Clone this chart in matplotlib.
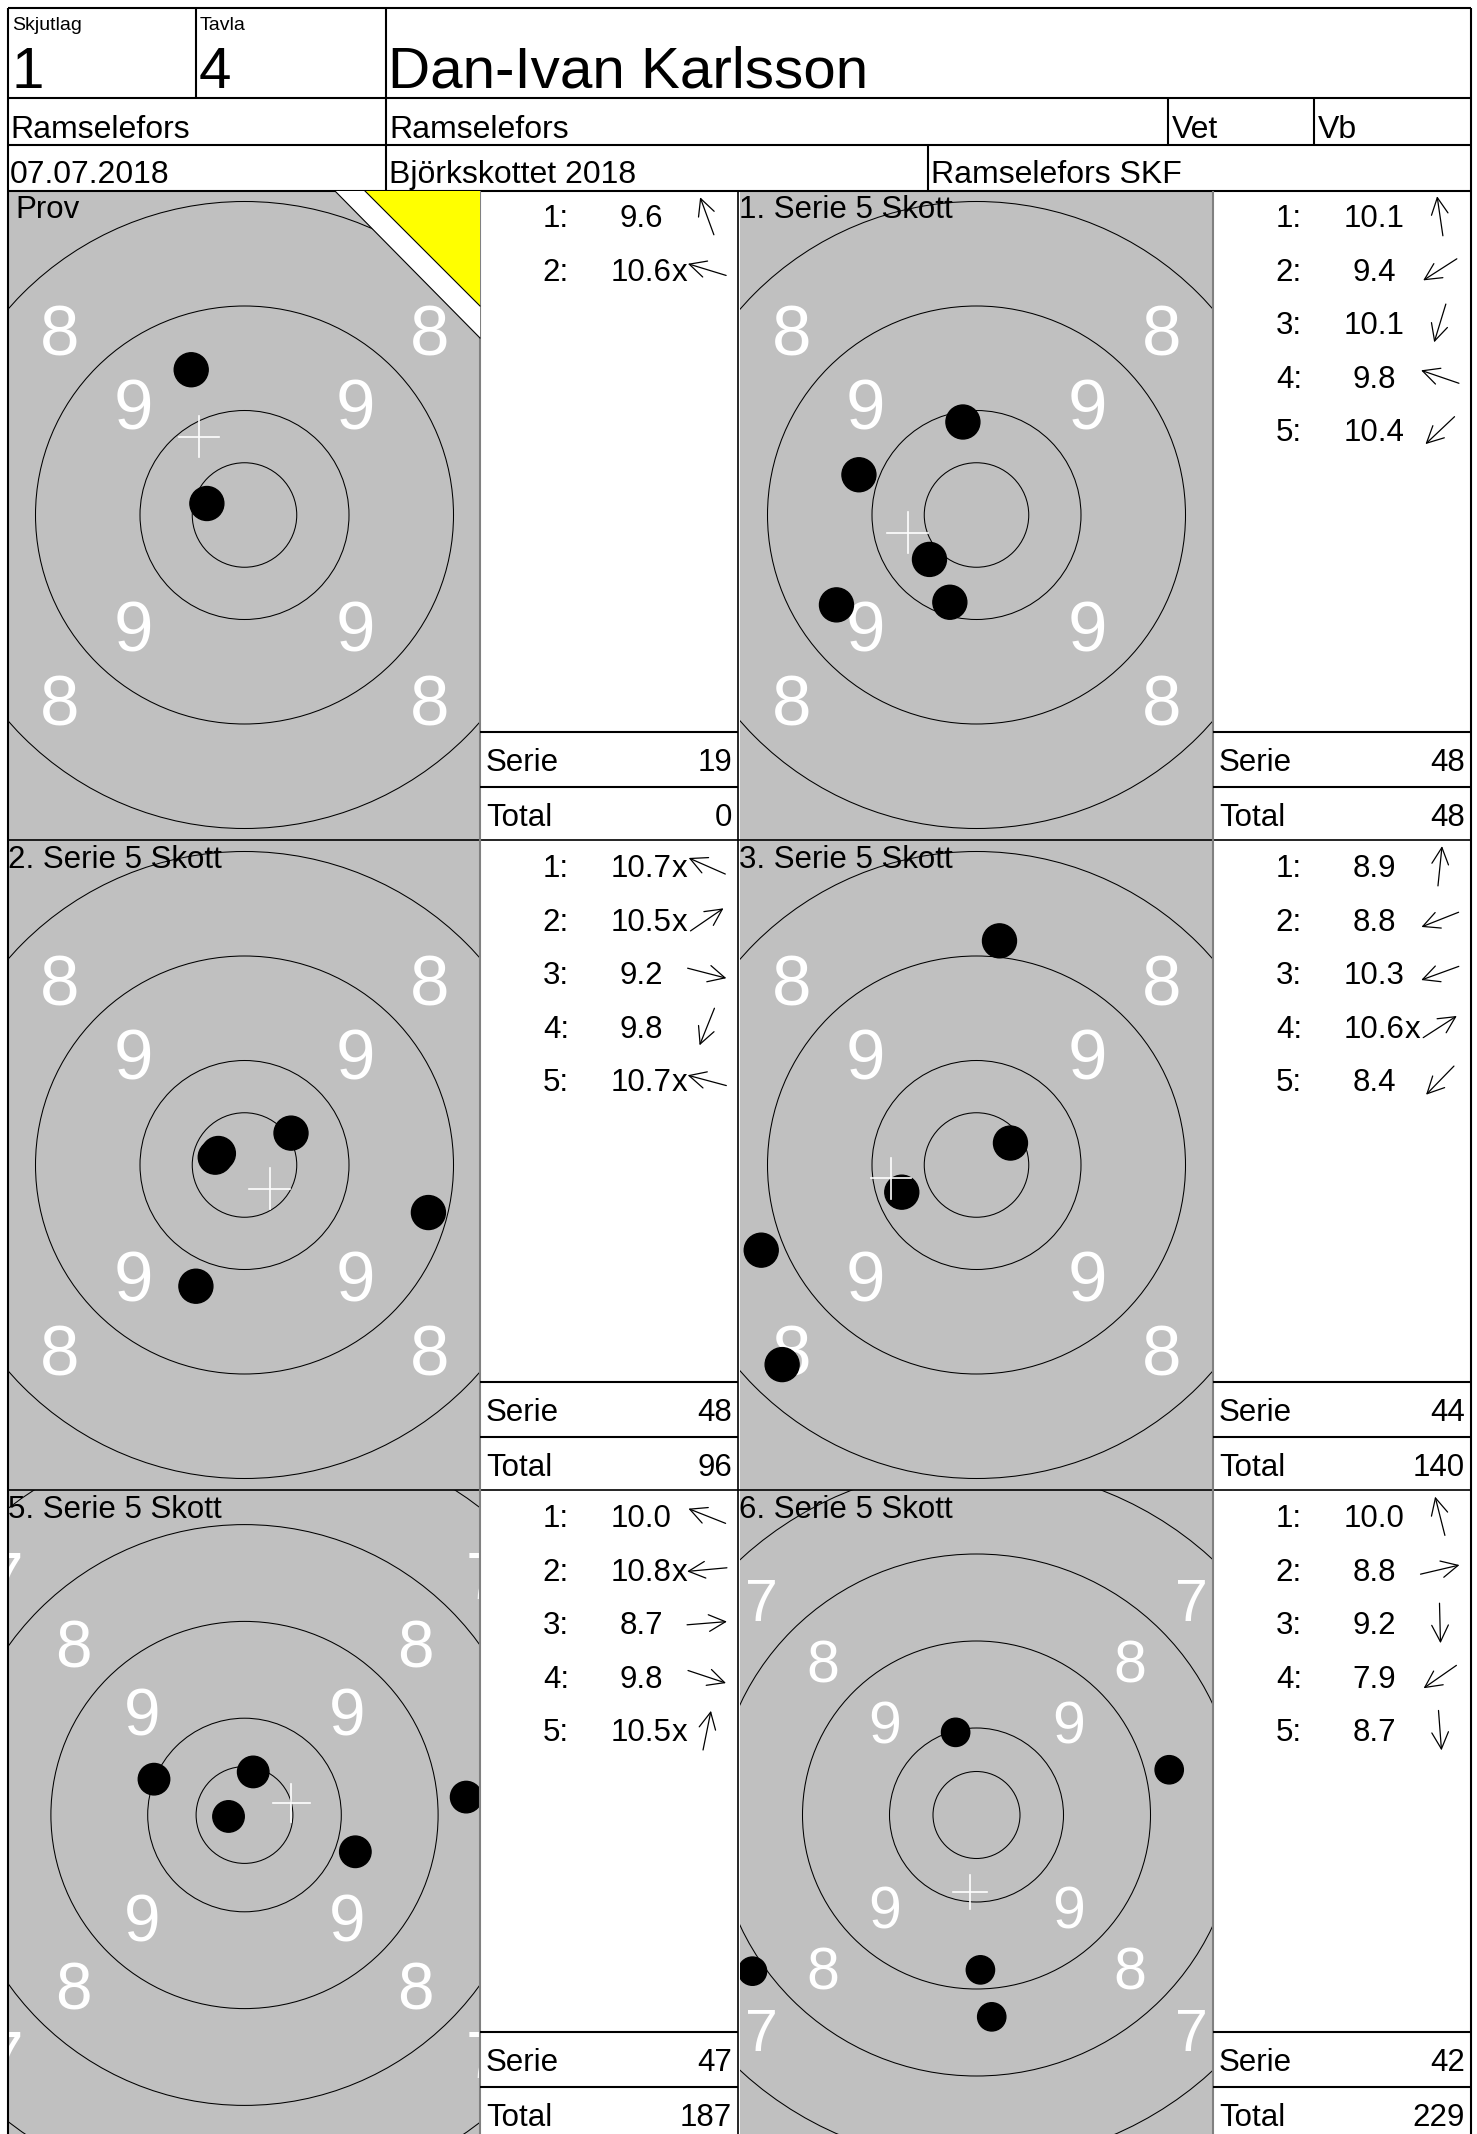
import numpy as np
import matplotlib
matplotlib.use("Agg")
import matplotlib.pyplot as plt
from matplotlib.patches import Circle, Polygon

plt.rcParams['font.family'] = ['Liberation Sans', 'DejaVu Sans']

W, H, DPI = 1477, 2134, 100

# ---------------- data ----------------
header_labels = ["Skjutlag", "Tavla"]
header_values = ["1", "4"]
shooter = "Dan-Ivan Karlsson"
row2_texts = ["Ramselefors", "Ramselefors", "Vet", "Vb"]
row3_texts = ["07.07.2018", "Björkskottet 2018", "Ramselefors SKF"]

panel_titles = ["Prov", "1. Serie 5 Skott", "2. Serie 5 Skott",
                "3. Serie 5 Skott", "5. Serie 5 Skott", "6. Serie 5 Skott"]

# shot positions in ring units (inner-ten radius = 1), x right, y up
prov_x = [-1.02, -0.72]
prov_y = [2.78, 0.22]
serie1_x = [-0.26, -2.68, -0.51, -2.25, -0.90]
serie1_y = [1.78, -1.72, -1.67, 0.77, -0.85]
serie2_x = [-0.50, 0.89, 3.52, -0.93, -0.56]
serie2_y = [0.22, 0.61, -0.91, -2.32, 0.15]
serie3_x = [0.44, -4.12, -1.43, 0.65, -3.72]
serie3_y = [4.29, -1.63, -0.52, 0.42, -3.82]
serie5_x = [-1.87, -0.33, 4.58, 2.29, 0.18]
serie5_y = [0.74, -0.03, 0.37, -0.76, 0.89]
serie6_x = [-0.48, 4.43, 0.09, -5.15, 0.35]
serie6_y = [1.90, 1.04, -3.56, -3.59, -4.64]

prov_scores = ["9.6", "10.6x"]
serie1_scores = ["10.1", "9.4", "10.1", "9.8", "10.4"]
serie2_scores = ["10.7x", "10.5x", "9.2", "9.8", "10.7x"]
serie3_scores = ["8.9", "8.8", "10.3", "10.6x", "8.4"]
serie5_scores = ["10.0", "10.8x", "8.7", "9.8", "10.5x"]
serie6_scores = ["10.0", "8.8", "9.2", "7.9", "8.7"]

serie_sums = [19, 48, 48, 44, 47, 42]
total_sums = [0, 48, 96, 140, 187, 229]

# ring radii (ring units) and labelled ring values
ring_radii = [1, 2, 4, 6, 8, 10, 12, 14]
ring_values = [9, 8, 7, 6, 5]

panels = list(zip(panel_titles,
                  [prov_x, serie1_x, serie2_x, serie3_x, serie5_x, serie6_x],
                  [prov_y, serie1_y, serie2_y, serie3_y, serie5_y, serie6_y],
                  [prov_scores, serie1_scores, serie2_scores, serie3_scores,
                   serie5_scores, serie6_scores]))

# ---------------- layout / style ----------------
target_scale = [52.25, 52.25, 52.25, 52.25, 48.4, 43.5]   # px per ring unit
row_top = [190, 840, 1490]
center_y = [515, 1165, 1815]
tgt_left = [9, 740]
tgt_right = [480, 1213]
col_left = [480, 1213]
col_right = [738, 1471]
GRAY = '#c0c0c0'
SHOT_R = 0.325
CROSS = 0.39
FS = 22.5

fig = plt.figure(figsize=(W / DPI, H / DPI), dpi=DPI)
fig.patch.set_facecolor('white')

# ---------------- targets ----------------
for i, (title, xs, ys, scores) in enumerate(panels):
    r, c = divmod(i, 2)
    u = target_scale[i]
    left, right = tgt_left[c], tgt_right[c]
    top = max(row_top[r], 191)
    bottom = min(row_top[r] + 650, H)
    cx = (left + right) / 2
    cy = center_y[r]
    axt = fig.add_axes([left / W, 1 - bottom / H, (right - left) / W, (bottom - top) / H])
    axt.set_xlim((left - cx) / u, (right - cx) / u)
    axt.set_ylim((cy - bottom) / u, (cy - top) / u)
    axt.set_facecolor(GRAY)
    axt.set_xticks([])
    axt.set_yticks([])
    for s in axt.spines.values():
        s.set_visible(False)
    for rad in ring_radii:
        axt.add_patch(Circle((0, 0), rad, fill=False, ec='black', lw=0.75, zorder=2))
    fs = 51 * u / 52.25
    for k in ring_values:
        d = (21 - 2 * k) / np.sqrt(2)
        for sx in (-1, 1):
            for sy in (-1, 1):
                axt.text(sx * d, sy * d - 0.485, str(k), ha='center', va='baseline',
                         color='white', fontsize=fs, zorder=3, clip_on=True)
    for x, y in zip(xs, ys):
        axt.add_patch(Circle((x, y), SHOT_R, color='black', zorder=4))
    mx, my = np.mean(xs), np.mean(ys)
    axt.plot([mx - CROSS, mx + CROSS], [my, my], color='white', lw=1.2, zorder=5)
    axt.plot([mx, mx], [my - CROSS, my + CROSS], color='white', lw=1.2, zorder=5)

# ---------------- overlay (pixel coordinates) ----------------
ov = fig.add_axes([0, 0, 1, 1])
ov.set_xlim(0, W)
ov.set_ylim(H, 0)
ov.set_axis_off()


def hline(y, x0, x1, color='black', lw=1.5):
    ov.plot([x0, x1], [y, y], color=color, lw=lw, solid_capstyle='butt')


def vline(x, y0, y1, color='black', lw=1.5):
    ov.plot([x, x], [y0, y1], color=color, lw=lw, solid_capstyle='butt')


# header grid
for y in (8, 98, 145, 191):
    hline(y, 8, 1471)
vline(8, 8, H)
vline(1471, 8, H)
vline(196, 8, 98)
vline(386, 8, 191)
vline(1168, 98, 145)
vline(1314, 98, 145)
vline(928, 145, 191)

# header texts
ov.text(12, 29.5, header_labels[0], fontsize=14, va='baseline', ha='left')
ov.text(200, 29.5, header_labels[1], fontsize=14, va='baseline', ha='left')
ov.text(11, 88, header_values[0], fontsize=42, va='baseline', ha='left')
ov.text(199, 88, header_values[1], fontsize=42, va='baseline', ha='left')
ov.text(388, 88, shooter, fontsize=42, va='baseline', ha='left')
for x, t in zip([10, 389, 1172, 1318], row2_texts):
    ov.text(x, 138, t, fontsize=23, va='baseline', ha='left')
for x, t in zip([10, 389, 931], row3_texts):
    ov.text(x, 183, t, fontsize=23, va='baseline', ha='left')

# Prov corner marker
ov.add_patch(Polygon([(335, 191), (480, 191), (480, 338)], closed=True,
                     fc='white', ec='none', zorder=3))
ov.add_patch(Polygon([(365, 191), (480, 191), (480, 306)], closed=True,
                     fc='#ffff00', ec='none', zorder=3))
ov.plot([335, 480], [191, 338], color='black', lw=0.8, zorder=4)
ov.plot([365, 480], [191, 306], color='black', lw=0.8, zorder=4)

# row separators and column lines
for y in (840, 1490):
    hline(y, 8, 1471, lw=1.2)
vline(480, 191, H, color='#808080', lw=1.5)
vline(1213, 191, H, color='#808080', lw=1.5)
vline(738, 191, H, color='black', lw=1.2)

# panel titles and score tables
for i, (title, xs, ys, scores) in enumerate(panels):
    r, c = divmod(i, 2)
    top = row_top[r]
    tx = tgt_left[c] + (6 if i == 0 else -1)
    ov.text(tx, top + 28, title, fontsize=FS, va='baseline', ha='left', zorder=6)

    x0 = col_left[c]
    x1 = col_right[c]
    for k, (s, x, y) in enumerate(zip(scores, xs, ys)):
        yb = top + 37 + 53.6 * k
        ov.text(x0 + 89, yb, f"{k + 1}:", fontsize=FS, ha='right', va='baseline')
        val, suffix = (s[:-1], 'x') if s.endswith('x') else (s, '')
        t = ov.text(x0 + 161, yb, val, fontsize=FS, ha='center', va='baseline')
        if suffix:
            ov.annotate(suffix, xy=(1, 0), xycoords=t, fontsize=FS,
                        ha='left', va='bottom')
        n = np.hypot(x, y)
        dx, dy = x / n, -y / n
        acx, acy = x0 + 227, yb - 11
        ov.annotate('', xy=(acx + 20 * dx, acy + 20 * dy),
                    xytext=(acx - 20 * dx, acy - 20 * dy),
                    arrowprops=dict(arrowstyle='->,head_length=0.6,head_width=0.3',
                                    lw=0.9, color='black', shrinkA=0, shrinkB=0,
                                    mutation_scale=20))
    hline(top + 542, x0, x1, lw=1.5)
    hline(top + 597, x0, x1, lw=1.5)
    ov.text(x0 + 6, top + 581, "Serie", fontsize=FS, ha='left', va='baseline')
    ov.text(x0 + 252, top + 581, str(serie_sums[i]), fontsize=FS, ha='right', va='baseline')
    ov.text(x0 + 6, top + 636, "Total", fontsize=FS, ha='left', va='baseline')
    ov.text(x0 + 252, top + 636, str(total_sums[i]), fontsize=FS, ha='right', va='baseline')

fig.savefig("out.png", dpi=DPI, facecolor='white')
